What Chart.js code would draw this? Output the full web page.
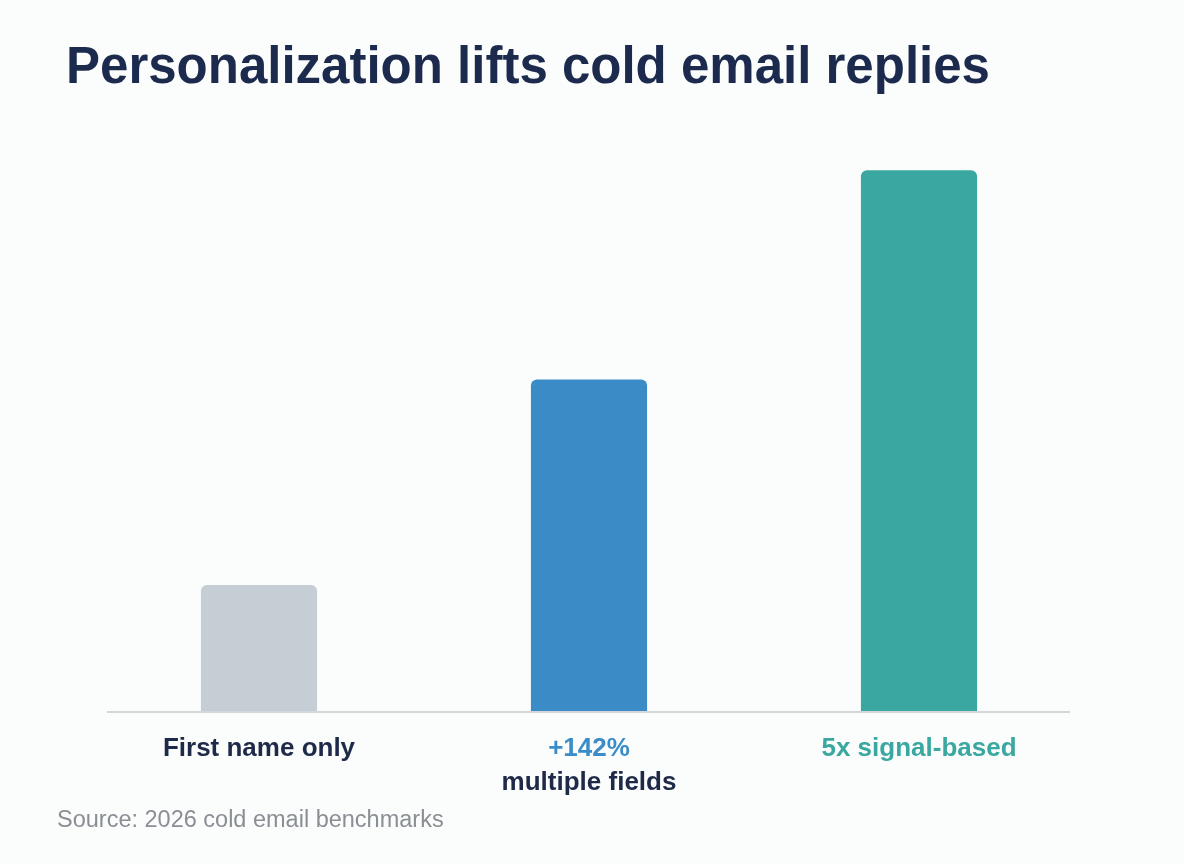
<!DOCTYPE html>
<html>
<head>
<meta charset="utf-8">
<script src="https://cdn.jsdelivr.net/npm/chart.js@4/dist/chart.umd.min.js"></script>
<style>
    html, body { margin: 0; padding: 0; background: #fbfcfc; }
    #wrap { position: relative; width: 1184px; height: 864px; overflow: hidden; }
    #chart { position: absolute; left: 0; top: 0; }
    h1 {
        position: absolute; left: 66px; top: 36px; margin: 0;
        font: bold 51px "Liberation Sans", Arial, sans-serif; color: #1c2a4e;
        white-space: nowrap;
    }
    .source {
        position: absolute; left: 57px; top: 806px; margin: 0;
        font: 23.5px "Liberation Sans", Arial, sans-serif; color: #8a8f94;
    }
</style>
</head>
<body>
<div id="wrap">
    <canvas id="chart" width="1184" height="864"></canvas>
    <h1>Personalization lifts cold email replies</h1>
    <p class="source">Source: 2026 cold email benchmarks</p>
</div>
<script>
// --- DATA ---
const categories = ['First name only', 'Multiple fields', 'Signal-based'];
const replyLift = [1.0, 2.63, 4.29];   // relative reply rate
const barColors = ['#c5ced5', '#3b8cc6', '#3aa8a0'];
// label lines under each bar: [text, color]
const labelLines = [
    [['First name only', '#1e2a48']],
    [['+142%', '#3a8dc8'], ['multiple fields', '#1e2a48']],
    [['5x signal-based', '#3aa8a0']]
];

// --- CUSTOM PLUGIN: baseline + two-tone category labels ---
const baseLabels = {
    id: 'baseLabels',
    afterDatasetsDraw(chart) {
        const { ctx, chartArea, scales } = chart;
        const y0 = scales.y.getPixelForValue(0);
        ctx.save();
        ctx.strokeStyle = '#d3d7db';
        ctx.lineWidth = 2;
        ctx.beginPath();
        ctx.moveTo(chartArea.left + 13, y0 + 1);
        ctx.lineTo(chartArea.right - 14, y0 + 1);
        ctx.stroke();

        ctx.font = 'bold 26px "Liberation Sans", Arial, sans-serif';
        ctx.textAlign = 'center';
        ctx.textBaseline = 'middle';
        labelLines.forEach((lines, i) => {
            const x = scales.x.getPixelForValue(i);
            lines.forEach((line, j) => {
                ctx.fillStyle = line[1];
                ctx.fillText(line[0], x, y0 + 38 + j * 34);
            });
        });
        ctx.restore();
    }
};

new Chart(document.getElementById('chart').getContext('2d'), {
    type: 'bar',
    data: {
        labels: categories,
        datasets: [{
            data: replyLift,
            backgroundColor: barColors,
            borderRadius: 6,
            borderSkipped: 'start',
            barPercentage: 0.5,
            categoryPercentage: 0.704
        }]
    },
    options: {
        responsive: false,
        animation: false,
        layout: { padding: { left: 94, right: 100, top: 150, bottom: 153 } },
        plugins: { legend: { display: false }, tooltip: { enabled: false } },
        scales: {
            x: { display: false },
            y: { display: false, min: 0, max: 4.45 }
        }
    },
    plugins: [baseLabels]
});
</script>
</body>
</html>
